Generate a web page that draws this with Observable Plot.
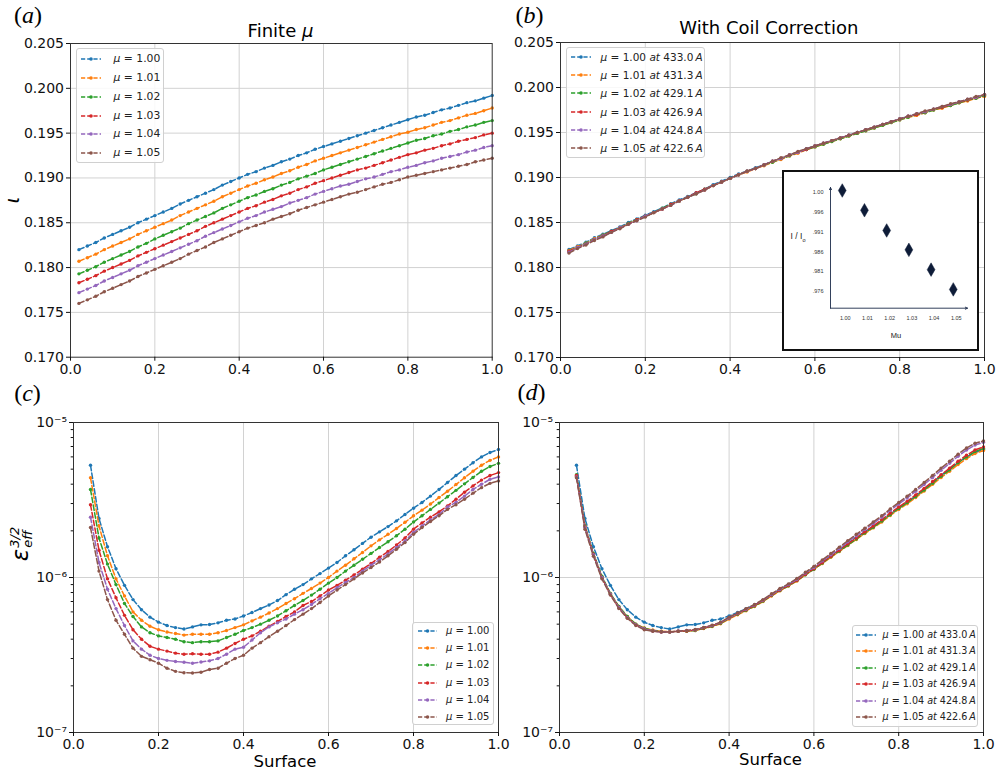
<!DOCTYPE html>
<html>
<head>
<meta charset="utf-8">
<script src="https://cdn.jsdelivr.net/npm/d3@7"></script>
<script src="https://cdn.jsdelivr.net/npm/@observablehq/plot@0.6"></script>
<style>
  html, body { margin: 0; padding: 0; background: #fff; }
  #root { position: relative; width: 1002px; height: 772px; overflow: hidden; background: #fff; font-family: "DejaVu Sans", sans-serif; color: #000; }
  .lbl { position: absolute; transform: translate(-50%, -50%); line-height: 1; white-space: nowrap; }
  .leg { position: absolute; box-sizing: border-box; border: 1px solid #d0d0d0; border-radius: 3px; background: rgba(255,255,255,0.85); }
  .legrow { position: absolute; line-height: 1; white-space: nowrap; transform: translateY(-50%); }
</style>
</head>
<body>
<div id="root"></div>
<script>
// ---------------- data ----------------
const COLORS = ["#1f77b4", "#ff7f0e", "#2ca02c", "#d62728", "#9467bd", "#8c564b"];
const MU = ["1.00", "1.01", "1.02", "1.03", "1.04", "1.05"];
const CURRENT = ["433.0", "431.3", "429.1", "426.9", "424.8", "422.6"];

const xTicks = [0, 0.2, 0.4, 0.6, 0.8, 1.0];
const iotaTicks = [0.170, 0.175, 0.180, 0.185, 0.190, 0.195, 0.200, 0.205];
const epsTicks = [1e-7, 1e-6, 1e-5];
const epsTickLabels = ["10\u207B\u2077", "10\u207B\u2076", "10\u207B\u2075"];
const epsMinor = [2e-7, 3e-7, 4e-7, 5e-7, 6e-7, 7e-7, 8e-7, 9e-7, 2e-6, 3e-6, 4e-6, 5e-6, 6e-6, 7e-6, 8e-6, 9e-6];

// surface positions, panels (a),(b)
const xA = [0.02,0.04,0.06,0.08,0.10,0.12,0.14,0.16,0.18,0.20,
            0.22,0.24,0.26,0.28,0.30,0.32,0.34,0.36,0.38,0.40,
            0.42,0.44,0.46,0.48,0.50,0.52,0.54,0.56,0.58,0.60,
            0.62,0.64,0.66,0.68,0.70,0.72,0.74,0.76,0.78,0.80,
            0.82,0.84,0.86,0.88,0.90,0.92,0.94,0.96,0.98,1.00];
// surface positions, panels (c),(d)
const xC = [0.04,0.06,0.08,0.10,0.12,0.14,0.16,0.18,0.20,0.22,
            0.24,0.26,0.28,0.30,0.32,0.34,0.36,0.38,0.40,0.42,
            0.44,0.46,0.48,0.50,0.52,0.54,0.56,0.58,0.60,0.62,
            0.64,0.66,0.68,0.70,0.72,0.74,0.76,0.78,0.80,0.82,
            0.84,0.86,0.88,0.90,0.92,0.94,0.96,0.98,1.00];

// (a) rotational transform, finite mu
const aBlue = [.1820,.1824,.1828,.1833,.1837,.1841,.1845,.1850,.1854,.1858,
               .1862,.1866,.1871,.1875,.1879,.1883,.1887,.1892,.1896,.1900,
               .1904,.1907,.1911,.1914,.1918,.1921,.1925,.1928,.1932,.1935,
               .1938,.1941,.1944,.1947,.1950,.1953,.1956,.1959,.1962,.1965,
               .1968,.1970,.1973,.1976,.1978,.1981,.1984,.1986,.1989,.1992];
const aOrange = [.1807,.1811,.1815,.1820,.1824,.1828,.1832,.1837,.1841,.1845,
                 .1849,.1853,.1858,.1862,.1866,.1870,.1874,.1879,.1883,.1887,
                 .1891,.1894,.1898,.1901,.1905,.1908,.1912,.1915,.1919,.1922,
                 .1925,.1928,.1931,.1934,.1937,.1940,.1943,.1946,.1949,.1951,
                 .1954,.1956,.1959,.1962,.1964,.1967,.1970,.1972,.1975,.1978];
const aGreen = [.1793,.1797,.1801,.1806,.1810,.1814,.1818,.1823,.1827,.1832,
                .1836,.1840,.1844,.1849,.1853,.1857,.1861,.1866,.1870,.1874,
                .1878,.1881,.1885,.1888,.1892,.1895,.1899,.1902,.1905,.1909,
                .1912,.1915,.1918,.1921,.1924,.1927,.1930,.1933,.1936,.1939,
                .1942,.1944,.1947,.1949,.1952,.1954,.1957,.1959,.1962,.1964];
const aRed = [.1783,.1787,.1791,.1796,.1800,.1804,.1808,.1813,.1817,.1821,
              .1825,.1829,.1833,.1837,.1841,.1846,.1850,.1854,.1858,.1862,
              .1866,.1869,.1873,.1876,.1880,.1883,.1887,.1890,.1894,.1897,
              .1900,.1903,.1906,.1909,.1911,.1914,.1917,.1920,.1923,.1926,
              .1928,.1931,.1933,.1936,.1938,.1941,.1943,.1945,.1948,.1950];
const aPurple = [.1772,.1776,.1780,.1785,.1789,.1793,.1797,.1802,.1806,.1810,
                 .1814,.1818,.1822,.1826,.1830,.1835,.1839,.1843,.1847,.1851,
                 .1855,.1858,.1862,.1865,.1868,.1872,.1875,.1878,.1882,.1885,
                 .1888,.1891,.1893,.1896,.1899,.1901,.1904,.1907,.1909,.1912,
                 .1914,.1917,.1919,.1922,.1924,.1926,.1929,.1931,.1934,.1936];
const aBrown = [.1760,.1764,.1768,.1773,.1777,.1781,.1785,.1790,.1794,.1798,
                .1802,.1806,.1810,.1815,.1819,.1823,.1828,.1832,.1836,.1840,
                .1844,.1847,.1850,.1854,.1857,.1860,.1864,.1867,.1870,.1873,
                .1876,.1879,.1882,.1884,.1887,.1890,.1893,.1895,.1898,.1901,
                .1903,.1905,.1907,.1909,.1911,.1913,.1915,.1918,.1920,.1922];

// (b) with coil correction
const bBlue = aBlue;
const bOrange = [.1819,.1823,.1827,.1832,.1836,.1840,.1844,.1849,.1853,.1857,
                 .1861,.1865,.1870,.1874,.1878,.1882,.1886,.1891,.1895,.1899,
                 .1903,.1906,.1910,.1913,.1917,.1920,.1924,.1927,.1931,.1934,
                 .1937,.1940,.1943,.1946,.1949,.1952,.1955,.1958,.1961,.1964,
                 .1967,.1969,.1972,.1975,.1977,.1980,.1983,.1985,.1988,.1990];
const bGreen = [.1818,.1822,.1827,.1831,.1836,.1840,.1844,.1849,.1853,.1857,
                .1861,.1866,.1870,.1874,.1878,.1882,.1887,.1891,.1895,.1899,
                .1903,.1907,.1910,.1914,.1917,.1921,.1924,.1928,.1931,.1934,
                .1937,.1940,.1943,.1946,.1949,.1952,.1955,.1958,.1961,.1964,
                .1967,.1970,.1972,.1975,.1978,.1980,.1983,.1986,.1988,.1991];
const bRed = [.1818,.1822,.1826,.1831,.1835,.1840,.1844,.1848,.1853,.1857,
              .1861,.1865,.1870,.1874,.1878,.1883,.1887,.1891,.1895,.1899,
              .1903,.1907,.1910,.1914,.1918,.1921,.1925,.1928,.1931,.1935,
              .1938,.1941,.1944,.1947,.1950,.1953,.1956,.1959,.1962,.1965,
              .1968,.1970,.1973,.1976,.1978,.1981,.1984,.1986,.1989,.1992];
const bPurple = [.1817,.1822,.1826,.1831,.1835,.1839,.1844,.1848,.1852,.1857,
                 .1861,.1865,.1869,.1874,.1878,.1882,.1886,.1891,.1895,.1899,
                 .1903,.1907,.1910,.1914,.1918,.1921,.1925,.1928,.1932,.1935,
                 .1938,.1941,.1944,.1947,.1950,.1953,.1956,.1959,.1962,.1965,
                 .1968,.1971,.1973,.1976,.1979,.1981,.1984,.1987,.1989,.1992];
const bBrown = [.1816,.1821,.1825,.1830,.1834,.1839,.1843,.1848,.1852,.1856,
                .1861,.1865,.1869,.1874,.1878,.1882,.1886,.1891,.1895,.1899,
                .1903,.1907,.1910,.1914,.1918,.1922,.1925,.1929,.1932,.1935,
                .1938,.1941,.1944,.1947,.1950,.1953,.1956,.1959,.1962,.1965,
                .1968,.1971,.1974,.1976,.1979,.1982,.1984,.1987,.1990,.1992];

// (c) effective ripple, finite mu
const cBlue = [5.3e-6,2.4e-6,1.58e-6,1.14e-6,8.9e-7,7.2e-7,6.2e-7,5.55e-7,5.15e-7,4.9e-7,
               4.75e-7,4.65e-7,4.8e-7,4.95e-7,4.97e-7,5.1e-7,5.3e-7,5.4e-7,5.65e-7,5.95e-7,
               6.3e-7,6.65e-7,7.1e-7,7.75e-7,8.4e-7,9.0e-7,9.8e-7,1.06e-6,1.15e-6,1.25e-6,
               1.38e-6,1.51e-6,1.66e-6,1.82e-6,1.97e-6,2.13e-6,2.32e-6,2.55e-6,2.8e-6,3.05e-6,
               3.35e-6,3.7e-6,4.1e-6,4.55e-6,5.0e-6,5.5e-6,6.0e-6,6.4e-6,6.7e-6];
const cOrange = [4.4e-6,2.15e-6,1.38e-6,9.8e-7,7.6e-7,6.0e-7,5.3e-7,4.85e-7,4.6e-7,4.45e-7,
                 4.35e-7,4.25e-7,4.3e-7,4.3e-7,4.3e-7,4.4e-7,4.55e-7,4.75e-7,4.95e-7,5.25e-7,
                 5.55e-7,5.9e-7,6.3e-7,6.8e-7,7.3e-7,7.9e-7,8.5e-7,9.2e-7,1.0e-6,1.1e-6,
                 1.2e-6,1.32e-6,1.45e-6,1.6e-6,1.75e-6,1.9e-6,2.07e-6,2.27e-6,2.5e-6,2.72e-6,
                 2.98e-6,3.28e-6,3.6e-6,3.98e-6,4.4e-6,4.85e-6,5.3e-6,5.7e-6,6.0e-6];
const cGreen = [3.7e-6,1.8e-6,1.22e-6,9.0e-7,6.8e-7,5.6e-7,4.8e-7,4.4e-7,4.2e-7,4.1e-7,
                4.0e-7,3.85e-7,3.8e-7,3.85e-7,3.85e-7,3.9e-7,4.1e-7,4.3e-7,4.55e-7,4.75e-7,
                5.0e-7,5.3e-7,5.65e-7,6.1e-7,6.6e-7,7.1e-7,7.7e-7,8.4e-7,9.2e-7,1.0e-6,
                1.1e-6,1.2e-6,1.31e-6,1.43e-6,1.56e-6,1.7e-6,1.86e-6,2.05e-6,2.28e-6,2.5e-6,
                2.75e-6,3.02e-6,3.32e-6,3.65e-6,4.02e-6,4.42e-6,4.85e-6,5.2e-6,5.45e-6];
const cRed = [2.95e-6,1.5e-6,9.8e-7,7.4e-7,5.7e-7,4.6e-7,4.0e-7,3.6e-7,3.45e-7,3.35e-7,
              3.25e-7,3.2e-7,3.22e-7,3.2e-7,3.2e-7,3.3e-7,3.5e-7,3.75e-7,4.0e-7,4.2e-7,
              4.5e-7,4.85e-7,5.2e-7,5.6e-7,6.0e-7,6.6e-7,7.0e-7,7.6e-7,8.3e-7,8.9e-7,
              9.6e-7,1.04e-6,1.13e-6,1.23e-6,1.35e-6,1.47e-6,1.62e-6,1.8e-6,2.05e-6,2.25e-6,
              2.45e-6,2.65e-6,2.9e-6,3.2e-6,3.55e-6,3.9e-6,4.25e-6,4.55e-6,4.75e-6];
const cPurple = [2.45e-6,1.25e-6,8.4e-7,6.3e-7,4.9e-7,3.9e-7,3.45e-7,3.15e-7,3.0e-7,2.92e-7,
                 2.87e-7,2.84e-7,2.8e-7,2.85e-7,2.9e-7,3.0e-7,3.2e-7,3.45e-7,3.55e-7,3.95e-7,
                 4.4e-7,4.8e-7,5.1e-7,5.4e-7,5.8e-7,6.2e-7,6.7e-7,7.3e-7,7.9e-7,8.6e-7,
                 9.3e-7,1.0e-6,1.1e-6,1.2e-6,1.3e-6,1.42e-6,1.56e-6,1.72e-6,1.95e-6,2.15e-6,
                 2.35e-6,2.55e-6,2.85e-6,3.05e-6,3.35e-6,3.7e-6,4.0e-6,4.3e-6,4.45e-6];
const cBrown = [2.1e-6,1.1e-6,7.2e-7,5.3e-7,4.3e-7,3.5e-7,3.1e-7,2.95e-7,2.8e-7,2.6e-7,
                2.48e-7,2.43e-7,2.42e-7,2.45e-7,2.55e-7,2.6e-7,2.8e-7,3.0e-7,3.15e-7,3.5e-7,
                3.8e-7,4.15e-7,4.5e-7,4.9e-7,5.35e-7,5.8e-7,6.3e-7,6.9e-7,7.6e-7,8.3e-7,
                9.0e-7,9.8e-7,1.07e-6,1.16e-6,1.26e-6,1.38e-6,1.52e-6,1.68e-6,1.9e-6,2.1e-6,
                2.3e-6,2.5e-6,2.75e-6,2.95e-6,3.2e-6,3.5e-6,3.8e-6,4.05e-6,4.2e-6];

// (d) effective ripple, coil corrected
const dBlue = cBlue;
const dOrange = [4.5e-6,2.15e-6,1.42e-6,1.01e-6,7.85e-7,6.5e-7,5.6e-7,5.0e-7,4.72e-7,4.58e-7,
                 4.5e-7,4.47e-7,4.5e-7,4.5e-7,4.55e-7,4.68e-7,4.83e-7,5.03e-7,5.4e-7,5.75e-7,
                 6.1e-7,6.5e-7,7.0e-7,7.6e-7,8.2e-7,8.8e-7,9.5e-7,1.04e-6,1.13e-6,1.23e-6,
                 1.35e-6,1.47e-6,1.61e-6,1.76e-6,1.92e-6,2.09e-6,2.28e-6,2.51e-6,2.75e-6,2.99e-6,
                 3.28e-6,3.61e-6,3.99e-6,4.42e-6,4.85e-6,5.35e-6,5.85e-6,6.3e-6,6.6e-6];
const dGreen = [4.6e-6,2.15e-6,1.43e-6,1.02e-6,7.9e-7,6.5e-7,5.6e-7,5.0e-7,4.7e-7,4.55e-7,
                4.48e-7,4.45e-7,4.5e-7,4.5e-7,4.55e-7,4.7e-7,4.85e-7,5.07e-7,5.45e-7,5.8e-7,
                6.15e-7,6.55e-7,7.05e-7,7.65e-7,8.25e-7,8.85e-7,9.55e-7,1.04e-6,1.13e-6,1.24e-6,
                1.36e-6,1.48e-6,1.62e-6,1.77e-6,1.94e-6,2.11e-6,2.31e-6,2.54e-6,2.79e-6,3.04e-6,
                3.33e-6,3.67e-6,4.06e-6,4.5e-6,4.95e-6,5.5e-6,6.0e-6,6.5e-6,6.8e-6];
const dRed = [4.55e-6,2.12e-6,1.41e-6,1.0e-6,7.8e-7,6.4e-7,5.5e-7,4.95e-7,4.65e-7,4.52e-7,
              4.45e-7,4.45e-7,4.5e-7,4.52e-7,4.58e-7,4.72e-7,4.88e-7,5.1e-7,5.48e-7,5.83e-7,
              6.2e-7,6.6e-7,7.1e-7,7.7e-7,8.3e-7,8.9e-7,9.6e-7,1.05e-6,1.14e-6,1.25e-6,
              1.37e-6,1.5e-6,1.65e-6,1.8e-6,1.97e-6,2.15e-6,2.36e-6,2.6e-6,2.85e-6,3.1e-6,
              3.41e-6,3.76e-6,4.16e-6,4.6e-6,5.07e-6,5.62e-6,6.15e-6,6.65e-6,6.95e-6];
const dPurple = [4.45e-6,2.1e-6,1.4e-6,1.0e-6,7.8e-7,6.4e-7,5.5e-7,4.95e-7,4.65e-7,4.52e-7,
                 4.45e-7,4.45e-7,4.52e-7,4.55e-7,4.6e-7,4.75e-7,4.9e-7,5.12e-7,5.5e-7,5.87e-7,
                 6.25e-7,6.65e-7,7.15e-7,7.75e-7,8.4e-7,9.0e-7,9.75e-7,1.07e-6,1.16e-6,1.28e-6,
                 1.4e-6,1.54e-6,1.7e-6,1.86e-6,2.04e-6,2.23e-6,2.45e-6,2.71e-6,2.98e-6,3.26e-6,
                 3.6e-6,3.98e-6,4.42e-6,4.92e-6,5.45e-6,6.05e-6,6.65e-6,7.15e-6,7.45e-6];
const dBrown = [4.4e-6,2.05e-6,1.37e-6,9.8e-7,7.7e-7,6.3e-7,5.45e-7,4.9e-7,4.6e-7,4.5e-7,
                4.45e-7,4.45e-7,4.5e-7,4.55e-7,4.62e-7,4.77e-7,4.93e-7,5.15e-7,5.55e-7,5.9e-7,
                6.3e-7,6.7e-7,7.2e-7,7.85e-7,8.5e-7,9.1e-7,9.85e-7,1.08e-6,1.18e-6,1.3e-6,
                1.43e-6,1.57e-6,1.73e-6,1.9e-6,2.08e-6,2.28e-6,2.5e-6,2.77e-6,3.05e-6,3.35e-6,
                3.7e-6,4.1e-6,4.56e-6,5.08e-6,5.62e-6,6.25e-6,6.85e-6,7.35e-6,7.6e-6];

// inset: I/I0 versus mu
const insetMu = [1.00, 1.01, 1.02, 1.03, 1.04, 1.05];
const insetRatio = [1.000, 0.9952, 0.9903, 0.9856, 0.9808, 0.9760];
const insetYLabels = ["1.00", ".996", ".991", ".986", ".981", ".976"];
const insetXLabels = ["1.00", "1.01", "1.02", "1.03", "1.04", "1.05"];

// ---------------- helpers ----------------
const root = document.getElementById("root");
function check(xs, arrs, name) {
  arrs.forEach((a, i) => { if (a.length !== xs.length) throw new Error(name + " series " + i + " length " + a.length + " != " + xs.length); });
}
function tidy(xs, arrs) {
  return arrs.map(a => a.map((v, i) => ({x: xs[i], y: v})));
}
function place(el, left, top, z) {
  el.style.position = "absolute";
  el.style.left = left + "px";
  el.style.top = top + "px";
  if (z != null) el.style.zIndex = z;
  root.appendChild(el);
  return el;
}
function label(html, x, y, css) {
  const d = document.createElement("div");
  d.className = "lbl";
  d.innerHTML = html;
  Object.assign(d.style, {left: x + "px", top: y + "px"}, css || {});
  root.appendChild(d);
  return d;
}

function panel(o) {
  const series = tidy(o.xs, o.arrs);
  const marks = [
    Plot.gridX(xTicks.slice(1, -1), {stroke: "#d2d2d2", strokeOpacity: 1, strokeWidth: 1}),
    Plot.gridY(o.gridY, {stroke: "#d2d2d2", strokeOpacity: 1, strokeWidth: 1})
  ];
  series.forEach((s, i) => {
    marks.push(Plot.line(s, {x: "x", y: "y", stroke: COLORS[i], strokeWidth: 1.5, strokeDasharray: "5.5,2.4"}));
    marks.push(Plot.dot(s, {x: "x", y: "y", fill: COLORS[i], r: 1.7}));
  });
  marks.push(Plot.frame({stroke: "#333", strokeWidth: 1}));
  marks.push(Plot.axisX({ticks: xTicks, tickFormat: d => d.toFixed(1), tickSize: 4, tickPadding: 3, label: null, fontSize: 14}));
  marks.push(Plot.axisY({ticks: o.yTicks, tickFormat: o.yFmt, tickSize: 4, tickPadding: 2.5, label: null, fontSize: 14}));
  if (o.minor) marks.push(Plot.axisY({ticks: o.minor, tickFormat: () => "", tickSize: 2.3, tickPadding: 0, label: null}));
  const svg = Plot.plot({
    width: o.width, height: o.height,
    marginLeft: o.m[0], marginRight: o.m[1], marginTop: o.m[2], marginBottom: o.m[3],
    x: {domain: [0, 1], label: null},
    y: Object.assign({label: null}, o.y),
    style: {fontFamily: "DejaVu Sans", fontSize: "14px", color: "#111", background: "transparent", overflow: "visible"},
    marks
  });
  svg.style.overflow = "visible";
  svg.style.background = "transparent";
  return place(svg, o.left, o.top, o.z);
}

function sampleSvg(color, w) {
  return `<svg width="${w}" height="8" style="display:block;overflow:visible"><line x1="0" y1="4" x2="${w}" y2="4" stroke="${color}" stroke-width="1.5" stroke-dasharray="4.2,2"/><circle cx="${w/2}" cy="4" r="1.8" fill="${color}"/></svg>`;
}
function legend(o) {
  const box = document.createElement("div");
  box.className = "leg";
  Object.assign(box.style, {left: o.x0 + "px", top: o.y0 + "px", width: (o.x1 - o.x0) + "px", height: (o.y1 - o.y0) + "px", zIndex: 5});
  o.rows.forEach((ry, i) => {
    const s = document.createElement("div");
    s.className = "legrow";
    s.style.left = (o.sx - o.x0) + "px";
    s.style.top = (ry - o.y0) + "px";
    s.innerHTML = sampleSvg(COLORS[i], o.sw);
    box.appendChild(s);
    const t = document.createElement("div");
    t.className = "legrow";
    t.style.left = (o.tx - o.x0) + "px";
    t.style.top = (ry - o.y0) + "px";
    t.style.fontSize = o.fs + "px";
    t.style.color = "#222";
    t.innerHTML = o.text(i);
    box.appendChild(t);
  });
  root.appendChild(box);
}

// ---------------- panels ----------------
check(xA, [aBlue, aOrange, aGreen, aRed, aPurple, aBrown, bOrange, bGreen, bRed, bPurple, bBrown], "ab");
check(xC, [cBlue, cOrange, cGreen, cRed, cPurple, cBrown, dOrange, dGreen, dRed, dPurple, dBrown], "cd");

const iotaFmt = d => d.toFixed(3);
const epsFmt = d => epsTickLabels[epsTicks.indexOf(d)] ?? "";

panel({left: 0, top: 0, width: 500, height: 380, m: [70, 8.3, 43, 23.3], z: 1,
  xs: xA, arrs: [aBlue, aOrange, aGreen, aRed, aPurple, aBrown],
  y: {domain: [0.170, 0.205]}, gridY: iotaTicks.slice(1, -1), yTicks: iotaTicks, yFmt: iotaFmt});
panel({left: 500, top: 0, width: 502, height: 380, m: [60, 18, 42, 23], z: 2,
  xs: xA, arrs: [bBlue, bOrange, bGreen, bRed, bPurple, bBrown],
  y: {domain: [0.170, 0.205]}, gridY: iotaTicks.slice(1, -1), yTicks: iotaTicks, yFmt: iotaFmt});
panel({left: 0, top: 380, width: 500, height: 392, m: [73, 2, 42, 40], z: 1,
  xs: xC, arrs: [cBlue, cOrange, cGreen, cRed, cPurple, cBrown],
  y: {type: "log", domain: [1e-7, 1e-5]}, gridY: [1e-6], yTicks: epsTicks, yFmt: epsFmt, minor: epsMinor});
panel({left: 500, top: 380, width: 502, height: 392, m: [59, 19, 42, 40], z: 2,
  xs: xC, arrs: [dBlue, dOrange, dGreen, dRed, dPurple, dBrown],
  y: {type: "log", domain: [1e-7, 1e-5]}, gridY: [1e-6], yTicks: epsTicks, yFmt: epsFmt, minor: epsMinor});

// ---------------- inset ----------------
const insetBox = document.createElement("div");
Object.assign(insetBox.style, {position: "absolute", left: "782px", top: "170px", width: "197px", height: "181px",
  boxSizing: "border-box", border: "2px solid #111", background: "#fff", zIndex: 6});
root.appendChild(insetBox);
const insetData = insetMu.map((m, i) => ({mu: m, r: insetRatio[i]}));
const insetX = [0.9947, 1.0564], insetY = [0.97144, 1.00073];
const insetSvg = Plot.plot({
  width: 193, height: 177, marginLeft: 46, marginRight: 10, marginTop: 15, marginBottom: 41.3,
  x: {domain: insetX, label: null},
  y: {domain: insetY, label: null},
  style: {fontFamily: "Liberation Sans", fontSize: "5.5px", color: "#333", background: "white", overflow: "visible"},
  marks: [
    Plot.arrow([{x1: insetX[0], y1: insetY[0], x2: insetX[0], y2: insetY[1]}], {x1: "x1", y1: "y1", x2: "x2", y2: "y2", stroke: "#1c2b4a", strokeWidth: 0.9, headLength: 4, headAngle: 50}),
    Plot.arrow([{x1: insetX[0], y1: insetY[0], x2: insetX[1], y2: insetY[0]}], {x1: "x1", y1: "y1", x2: "x2", y2: "y2", stroke: "#1c2b4a", strokeWidth: 0.9, headLength: 4, headAngle: 50}),
    Plot.dot(insetData, {x: "mu", y: "r", symbol: "diamond", r: 4.1, fill: "#0e1c38", stroke: "#0e1c38", strokeWidth: 0.5}),
    Plot.axisX({ticks: insetMu, tickFormat: d => insetXLabels[insetMu.indexOf(d)], tickSize: 0, tickPadding: 8, label: null, dx: 3, fontSize: 5.5}),
    Plot.axisY({ticks: insetRatio, tickFormat: d => insetYLabels[insetRatio.indexOf(d)], tickSize: 0, tickPadding: 7, label: null, dy: 2, fontSize: 5.5})
  ]
});
insetSvg.style.display = "block";
insetBox.appendChild(insetSvg);
label('I / I<sub style="font-size:5.5px;vertical-align:-3px">o</sub>', 798, 238, {fontFamily: "Liberation Sans", fontSize: "8.5px", color: "#222", zIndex: 7});
label("Mu", 896, 336, {fontFamily: "Liberation Sans", fontSize: "7.5px", color: "#222", zIndex: 7});

// ---------------- legends ----------------
const muText = i => `<i>μ</i> = ${MU[i]}`;
const muAText = i => `<i>μ</i> = ${MU[i]} <i>at</i> ${CURRENT[i]}&thinsp;<i>A</i>`;
legend({x0: 76, y0: 48, x1: 164, y1: 163, sx: 80, sw: 20, tx: 112.5, fs: 10.8,
  rows: [58.3, 77.3, 96, 114.5, 132.8, 151.7], text: muText});
legend({x0: 566, y0: 47, x1: 705, y1: 158, sx: 570, sw: 20, tx: 599.5, fs: 10.5,
  rows: [55.7, 74, 92.3, 110.7, 129, 147.3], text: muAText});
legend({x0: 412, y0: 621.5, x1: 493.5, y1: 725, sx: 416.5, sw: 19, tx: 445, fs: 10,
  rows: [630, 647.3, 664.3, 681.7, 698.5, 715.7], text: muText});
legend({x0: 851.5, y0: 624.5, x1: 977.5, y1: 727, sx: 855, sw: 20, tx: 881.5, fs: 9.6,
  rows: [634, 650.3, 666.7, 683.3, 700, 716.3], text: muAText});

// ---------------- titles / labels ----------------
const serif = {fontFamily: "Liberation Serif", fontSize: "24px", zIndex: 8};
label("(<i>a</i>)", 28, 15, serif);
label("(<i>b</i>)", 529.5, 14.5, serif);
label("(<i>c</i>)", 27.5, 392.5, serif);
label("(<i>d</i>)", 531.5, 392, serif);
label("Finite <i>μ</i>", 280.5, 31, {fontSize: "18px", zIndex: 8});
label("With Coil Correction", 768.8, 28, {fontSize: "18px", zIndex: 8});
label("Surface", 285, 761.5, {fontSize: "16.5px", zIndex: 8});
label("Surface", 770.5, 760, {fontSize: "16.5px", zIndex: 8});
label("<i>ι</i>", 12, 200, {fontSize: "20px", transform: "translate(-50%,-50%) rotate(-90deg)", zIndex: 8});
label('<i>ε</i><span style="display:inline-flex;flex-direction:column;vertical-align:middle;line-height:0.95;font-size:13px;margin-left:1px"><i>3/2</i><i>eff</i></span>',
  21, 544, {fontSize: "23px", transform: "translate(-50%,-50%) rotate(-90deg)", zIndex: 8});
</script>
</body>
</html>
